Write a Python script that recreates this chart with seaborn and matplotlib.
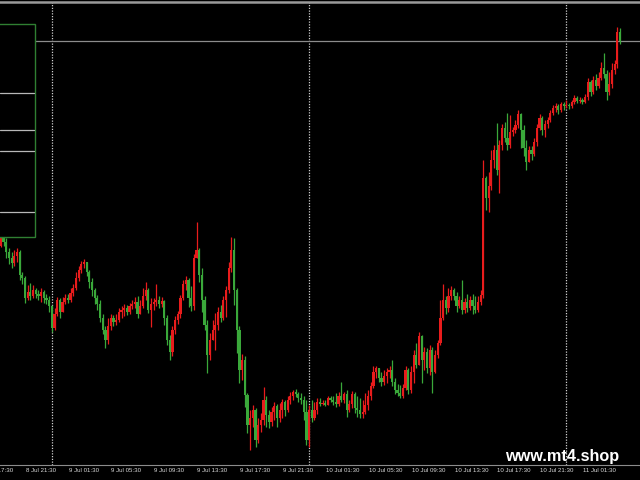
import numpy as np
import pandas as pd
import matplotlib
matplotlib.use('Agg')
import matplotlib.pyplot as plt
import seaborn as sns
from matplotlib.patches import Rectangle
from matplotlib.lines import Line2D

# M15 bars, chart units (no price scale shown on the screenshot)
first_open = 234
closes = [244, 238, 228, 222, 217, 224, 228, 205, 202, 182,
          188, 184, 190, 186, 184, 188, 182, 180, 174, 152,
          166, 180, 168, 178, 182, 180, 187, 192, 202, 210,
          216, 218, 208, 198, 190, 182, 176, 162, 150, 140,
          154, 162, 158, 160, 168, 170, 172, 168, 174, 176,
          178, 166, 174, 184, 190, 170, 176, 178, 180, 176,
          179, 162, 140, 128, 150, 160, 166, 182, 196, 200,
          182, 174, 222, 230, 205, 180, 155, 125, 140, 150,
          155, 168, 162, 180, 190, 212, 230, 190, 150, 110,
          120, 85, 55, 62, 70, 40, 55, 60, 80, 65,
          58, 68, 74, 62, 70, 78, 70, 80, 84, 88,
          86, 82, 80, 68, 40, 70, 62, 70, 78, 76,
          77, 75, 82, 80, 78, 76, 84, 80, 86, 70,
          76, 86, 72, 70, 66, 68, 75, 84, 94, 108,
          112, 102, 98, 104, 108, 110, 98, 90, 87, 84,
          92, 110, 90, 108, 125, 115, 144, 120, 128, 112,
          130, 108, 125, 137, 162, 180, 172, 184, 190, 184,
          174, 180, 170, 178, 172, 180, 174, 170, 178, 185,
          302, 282, 294, 320, 330, 310, 335, 352, 342, 335,
          348, 350, 355, 366, 350, 332, 318, 330, 326, 338,
          352, 362, 350, 356, 360, 367, 372, 374, 370, 376,
          374, 375, 374, 378, 382, 379, 380, 378, 383, 398,
          388, 400, 394, 402, 412, 406, 388, 396, 410, 416,
          448, 439]
highs = [250, 246, 242, 232, 228, 230, 232, 230, 208, 204,
         195, 197, 195, 192, 190, 192, 190, 186, 184, 175,
         172, 183, 182, 183, 186, 186, 192, 196, 208, 214,
         219, 221, 218, 210, 202, 192, 185, 180, 166, 154,
         162, 166, 165, 166, 172, 174, 176, 175, 177, 180,
         183, 184, 180, 192, 198, 192, 182, 182, 196, 184,
         183, 180, 165, 145, 154, 164, 169, 185, 200, 204,
         202, 194, 226, 258, 232, 212, 184, 160, 147, 160,
         167, 173, 175, 184, 194, 218, 243, 242, 192, 154,
         126, 124, 87, 70, 75, 72, 62, 67, 93, 84,
         70, 73, 78, 76, 77, 81, 80, 84, 88, 90,
         91, 88, 87, 84, 80, 75, 80, 78, 82, 82,
         80, 80, 84, 84, 84, 87, 88, 98, 88, 90,
         80, 89, 88, 84, 82, 80, 87, 90, 98, 114,
         114, 112, 108, 110, 112, 114, 120, 102, 96, 95,
         96, 114, 112, 114, 130, 137, 148, 145, 133, 132,
         135, 133, 130, 140, 180, 196, 184, 192, 194, 192,
         188, 184, 200, 182, 186, 184, 186, 184, 184, 190,
         320, 304, 308, 330, 335, 357, 340, 356, 358, 367,
         365, 353, 360, 370, 367, 355, 340, 334, 334, 342,
         356, 366, 364, 360, 363, 370, 375, 377, 376, 378,
         378, 380, 377, 380, 385, 384, 383, 382, 386, 402,
         400, 404, 406, 408, 418, 427, 410, 408, 417, 420,
         453, 452]
lows = [233, 234, 222, 216, 212, 214, 218, 200, 196, 177,
        180, 180, 182, 182, 180, 178, 177, 176, 168, 148,
        150, 164, 162, 170, 176, 177, 178, 184, 190, 199,
        207, 212, 204, 192, 184, 176, 170, 158, 146, 132,
        136, 150, 154, 155, 158, 162, 164, 165, 166, 171,
        172, 162, 168, 172, 180, 167, 153, 170, 174, 172,
        173, 155, 135, 120, 124, 146, 156, 162, 180, 190,
        173, 169, 170, 222, 198, 168, 150, 107, 120, 140,
        130, 150, 158, 160, 163, 187, 208, 175, 127, 97,
        100, 73, 47, 30, 53, 33, 37, 48, 55, 53,
        52, 54, 60, 53, 58, 62, 64, 68, 76, 80,
        83, 78, 76, 60, 35, 33, 58, 60, 66, 74,
        75, 74, 76, 78, 75, 73, 74, 78, 77, 63,
        68, 72, 67, 63, 62, 62, 66, 70, 80, 92,
        102, 98, 94, 95, 97, 102, 94, 86, 84, 82,
        82, 90, 86, 87, 97, 112, 118, 97, 110, 107,
        105, 87, 107, 122, 135, 160, 166, 168, 180, 180,
        168, 172, 166, 167, 168, 170, 166, 167, 168, 175,
        182, 270, 268, 290, 312, 305, 287, 330, 338, 330,
        332, 344, 347, 352, 332, 324, 310, 322, 320, 324,
        334, 350, 345, 343, 352, 358, 365, 368, 366, 368,
        370, 372, 371, 372, 376, 377, 377, 376, 377, 380,
        384, 386, 390, 392, 400, 402, 380, 385, 392, 406,
        412, 436]

tick_labels = ['8 Jul 17:30', '8 Jul 21:30', '9 Jul 01:30', '9 Jul 05:30',
               '9 Jul 09:30', '9 Jul 13:30', '9 Jul 17:30', '9 Jul 21:30',
               '10 Jul 01:30', '10 Jul 05:30', '10 Jul 09:30', '10 Jul 13:30',
               '10 Jul 17:30', '10 Jul 21:30', '11 Jul 01:30']

start = pd.Timestamp('2024-07-08 19:15')
times = pd.date_range(start, periods=len(closes), freq='15min')

df = pd.DataFrame({'time': times, 'close': closes, 'high': highs, 'low': lows})
df['open'] = [first_open] + closes[:-1]
df['high'] = df[['high', 'open', 'close']].max(axis=1)
df['low'] = df[['low', 'open', 'close']].min(axis=1)
df['bull'] = df['close'] > df['open']

RED = '#e81c1c'
GREEN = '#3aa83a'
colors = np.where(df['bull'], RED, GREEN)

sns.set_style('dark', rc={'axes.facecolor': 'black', 'figure.facecolor': 'black',
                          'axes.grid': False})
plt.rcParams['font.family'] = ['Liberation Sans', 'DejaVu Sans']

fig = plt.figure(figsize=(6.4, 4.8), dpi=100)
ax = fig.add_axes([0, 15 / 480, 1, 463 / 480])
ax.set_facecolor('black')
ax.set_xlim(-0.9 / 2.68, (640 - 0.9) / 2.68)
ax.set_ylim(15, 478)

# day separators (midnight bars)
for pos in df.index[(df['time'].dt.hour == 0) & (df['time'].dt.minute == 0)]:
    ax.axvline(pos, color='#cfcfcf', lw=0.9, ls=(0, (1, 1.2)), zorder=1)

# bid line
ax.axhline(df['close'].iloc[-1], color='#8c8c8c', lw=0.9, zorder=1)

# candles
ax.vlines(df.index, df['low'], df['high'], colors=colors, lw=0.9, zorder=2)
body_low = df[['open', 'close']].min(axis=1)
body_h = (df['close'] - df['open']).abs().clip(lower=1)
ax.bar(df.index, body_h, bottom=body_low, width=0.82, color=colors, lw=0, zorder=3)

for side in ['left', 'right']:
    ax.spines[side].set_visible(False)
ax.spines['bottom'].set_color('#8c8c8c')
ax.spines['top'].set_color('#9a9a9a')
ax.spines['top'].set_linewidth(1.8)
ax.set_yticks([])

tick_pos = [(pd.Timestamp('2024 ' + t.split(' ', 2)[1] + ' ' + t.split(' ')[0] + ' ' + t.split(' ')[2])
             - start) / pd.Timedelta('15min') for t in tick_labels]
ax.set_xticks([p for p in tick_pos if p >= 0])
ax.set_xticklabels([])
ax.tick_params(axis='x', direction='in', length=3, color='#8c8c8c', width=0.8)
for p, lab in zip(tick_pos, tick_labels):
    ax.annotate(lab, xy=(p, 0), xycoords=('data', 'axes fraction'),
                xytext=(0.5, -2.2), textcoords='offset points',
                ha='left', va='top', fontsize=4.4, color='#dadada',
                annotation_clip=False)

# left info panel
fig.add_artist(Rectangle((-6 / 640, (480 - 237) / 480), 41 / 640, 213 / 480,
                         transform=fig.transFigure, facecolor='black',
                         edgecolor='#2f7f32', lw=1.0, zorder=5))
for y in [93, 130, 151, 212]:
    fig.add_artist(Line2D([0, 34 / 640], [(480 - y) / 480] * 2,
                          transform=fig.transFigure, color='#b8b8b8', lw=0.9, zorder=6))

fig.text(505 / 640, (480 - 461) / 480, 'www.mt4.shop', fontsize=11.7,
         fontweight='bold', color='white', ha='left', va='baseline')

plt.savefig('out.png', dpi=100, facecolor='black')
